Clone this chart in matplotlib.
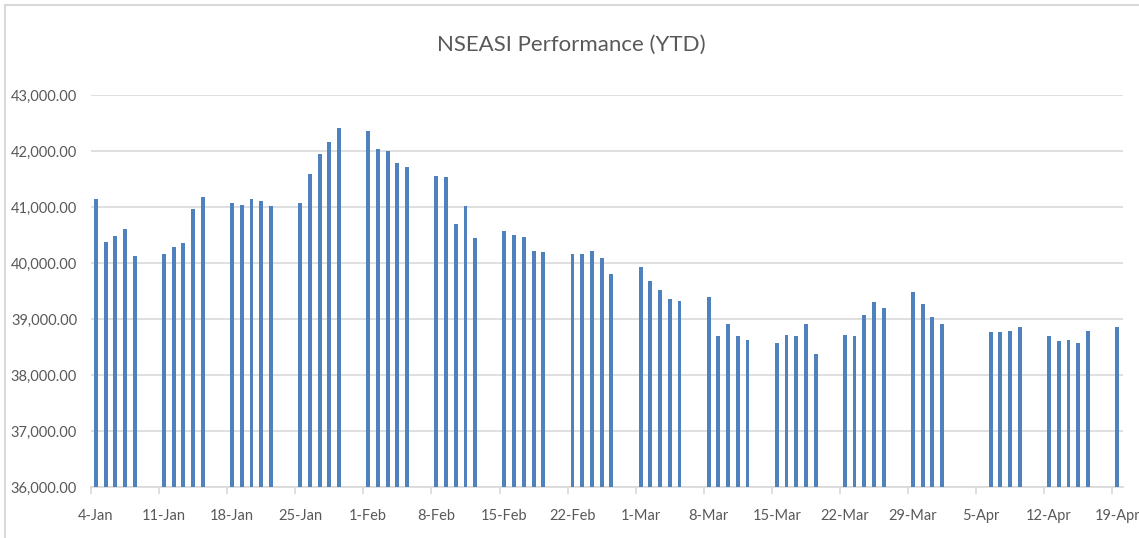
import datetime as dt
import matplotlib
matplotlib.use('Agg')
import matplotlib.pyplot as plt
import matplotlib.dates as mdates
from matplotlib.patches import Rectangle
from matplotlib.ticker import FixedLocator, FuncFormatter

# trading days (2021) and index close
dates = ['2021-01-04', '2021-01-05', '2021-01-06', '2021-01-07', '2021-01-08',
         '2021-01-11', '2021-01-12', '2021-01-13', '2021-01-14', '2021-01-15',
         '2021-01-18', '2021-01-19', '2021-01-20', '2021-01-21', '2021-01-22',
         '2021-01-25', '2021-01-26', '2021-01-27', '2021-01-28', '2021-01-29',
         '2021-02-01', '2021-02-02', '2021-02-03', '2021-02-04', '2021-02-05',
         '2021-02-08', '2021-02-09', '2021-02-10', '2021-02-11', '2021-02-12',
         '2021-02-15', '2021-02-16', '2021-02-17', '2021-02-18', '2021-02-19',
         '2021-02-22', '2021-02-23', '2021-02-24', '2021-02-25', '2021-02-26',
         '2021-03-01', '2021-03-02', '2021-03-03', '2021-03-04', '2021-03-05',
         '2021-03-08', '2021-03-09', '2021-03-10', '2021-03-11', '2021-03-12',
         '2021-03-15', '2021-03-16', '2021-03-17', '2021-03-18', '2021-03-19',
         '2021-03-22', '2021-03-23', '2021-03-24', '2021-03-25', '2021-03-26',
         '2021-03-29', '2021-03-30', '2021-03-31', '2021-04-01',
         '2021-04-06', '2021-04-07', '2021-04-08', '2021-04-09',
         '2021-04-12', '2021-04-13', '2021-04-14', '2021-04-15', '2021-04-16',
         '2021-04-19']
values = [41140, 40380, 40480, 40600, 40120,
          40160, 40280, 40350, 40960, 41180,
          41080, 41040, 41140, 41110, 41010,
          41080, 41590, 41940, 42160, 42410,
          42350, 42030, 42000, 41780, 41710,
          41550, 41530, 40690, 41010, 40440,
          40570, 40500, 40470, 40220, 40190,
          40160, 40160, 40220, 40090, 39810,
          39930, 39680, 39520, 39360, 39330,
          39390, 38690, 38910, 38690, 38630,
          38570, 38720, 38690, 38910, 38370,
          38720, 38690, 39080, 39300, 39200,
          39490, 39270, 39040, 38910,
          38760, 38760, 38790, 38850,
          38690, 38600, 38630, 38570, 38790,
          38850]
tick_dates = ['2021-01-04', '2021-01-11', '2021-01-18', '2021-01-25', '2021-02-01',
              '2021-02-08', '2021-02-15', '2021-02-22', '2021-03-01', '2021-03-08',
              '2021-03-15', '2021-03-22', '2021-03-29', '2021-04-05', '2021-04-12',
              '2021-04-19']
yticks = [36000, 37000, 38000, 39000, 40000, 41000, 42000, 43000]

plt.rcParams['font.family'] = ['Lato', 'DejaVu Sans']
grey = '#595959'
blue = '#4f81bd'

x = mdates.date2num([dt.date.fromisoformat(d) for d in dates])
xt = mdates.date2num([dt.date.fromisoformat(d) for d in tick_dates])

fig = plt.figure(figsize=(11.39, 5.38), dpi=100)
ax = fig.add_axes([91 / 1139, 1 - 487 / 538, (1123 - 91) / 1139, (487 - 95) / 538])

ax.bar(x + 0.5, [v - 36000 for v in values], bottom=36000, width=0.4, color=blue, zorder=3)

ax.set_xlim(xt[0], xt[0] + 106.1)
ax.set_ylim(36000, 43000)
ax.set_yticks(yticks)
ax.yaxis.set_major_formatter(FuncFormatter(lambda v, p: f'{v:,.2f}'))
ax.grid(axis='y', color='#d9d9d9', linewidth=1.2, zorder=0)
ax.tick_params(axis='y', length=0, pad=10, labelsize=10.5, labelcolor=grey)

# tick marks on day boundaries, labels on day centres
ax.xaxis.set_major_locator(FixedLocator(xt))
ax.xaxis.set_major_formatter(FuncFormatter(lambda v, p: ''))
ax.xaxis.set_minor_locator(FixedLocator(xt + 0.5))
ax.xaxis.set_minor_formatter(FuncFormatter(lambda v, p: mdates.num2date(v).strftime('%-d-%b')))
ax.tick_params(axis='x', which='major', length=5, color='#d9d9d9', width=1.2)
ax.tick_params(axis='x', which='minor', length=0, pad=16, labelsize=10.5, labelcolor=grey)

for s in ['top', 'right', 'left']:
    ax.spines[s].set_visible(False)
ax.spines['bottom'].set_color('#d9d9d9')
ax.spines['bottom'].set_linewidth(1.2)

fig.text(571 / 1139, 1 - 45 / 538, 'NSEASI Performance (YTD)', ha='center', va='center',
         fontsize=16, color=grey)

# chart border (only top/left visible in the crop)
fig.add_artist(Rectangle((5 / 1139, -0.5), 2, 0.5 + 1 - 5 / 538, transform=fig.transFigure,
                         fill=False, edgecolor='#d9d9d9', linewidth=1.5))

fig.savefig('out.png', dpi=100, facecolor='white')
